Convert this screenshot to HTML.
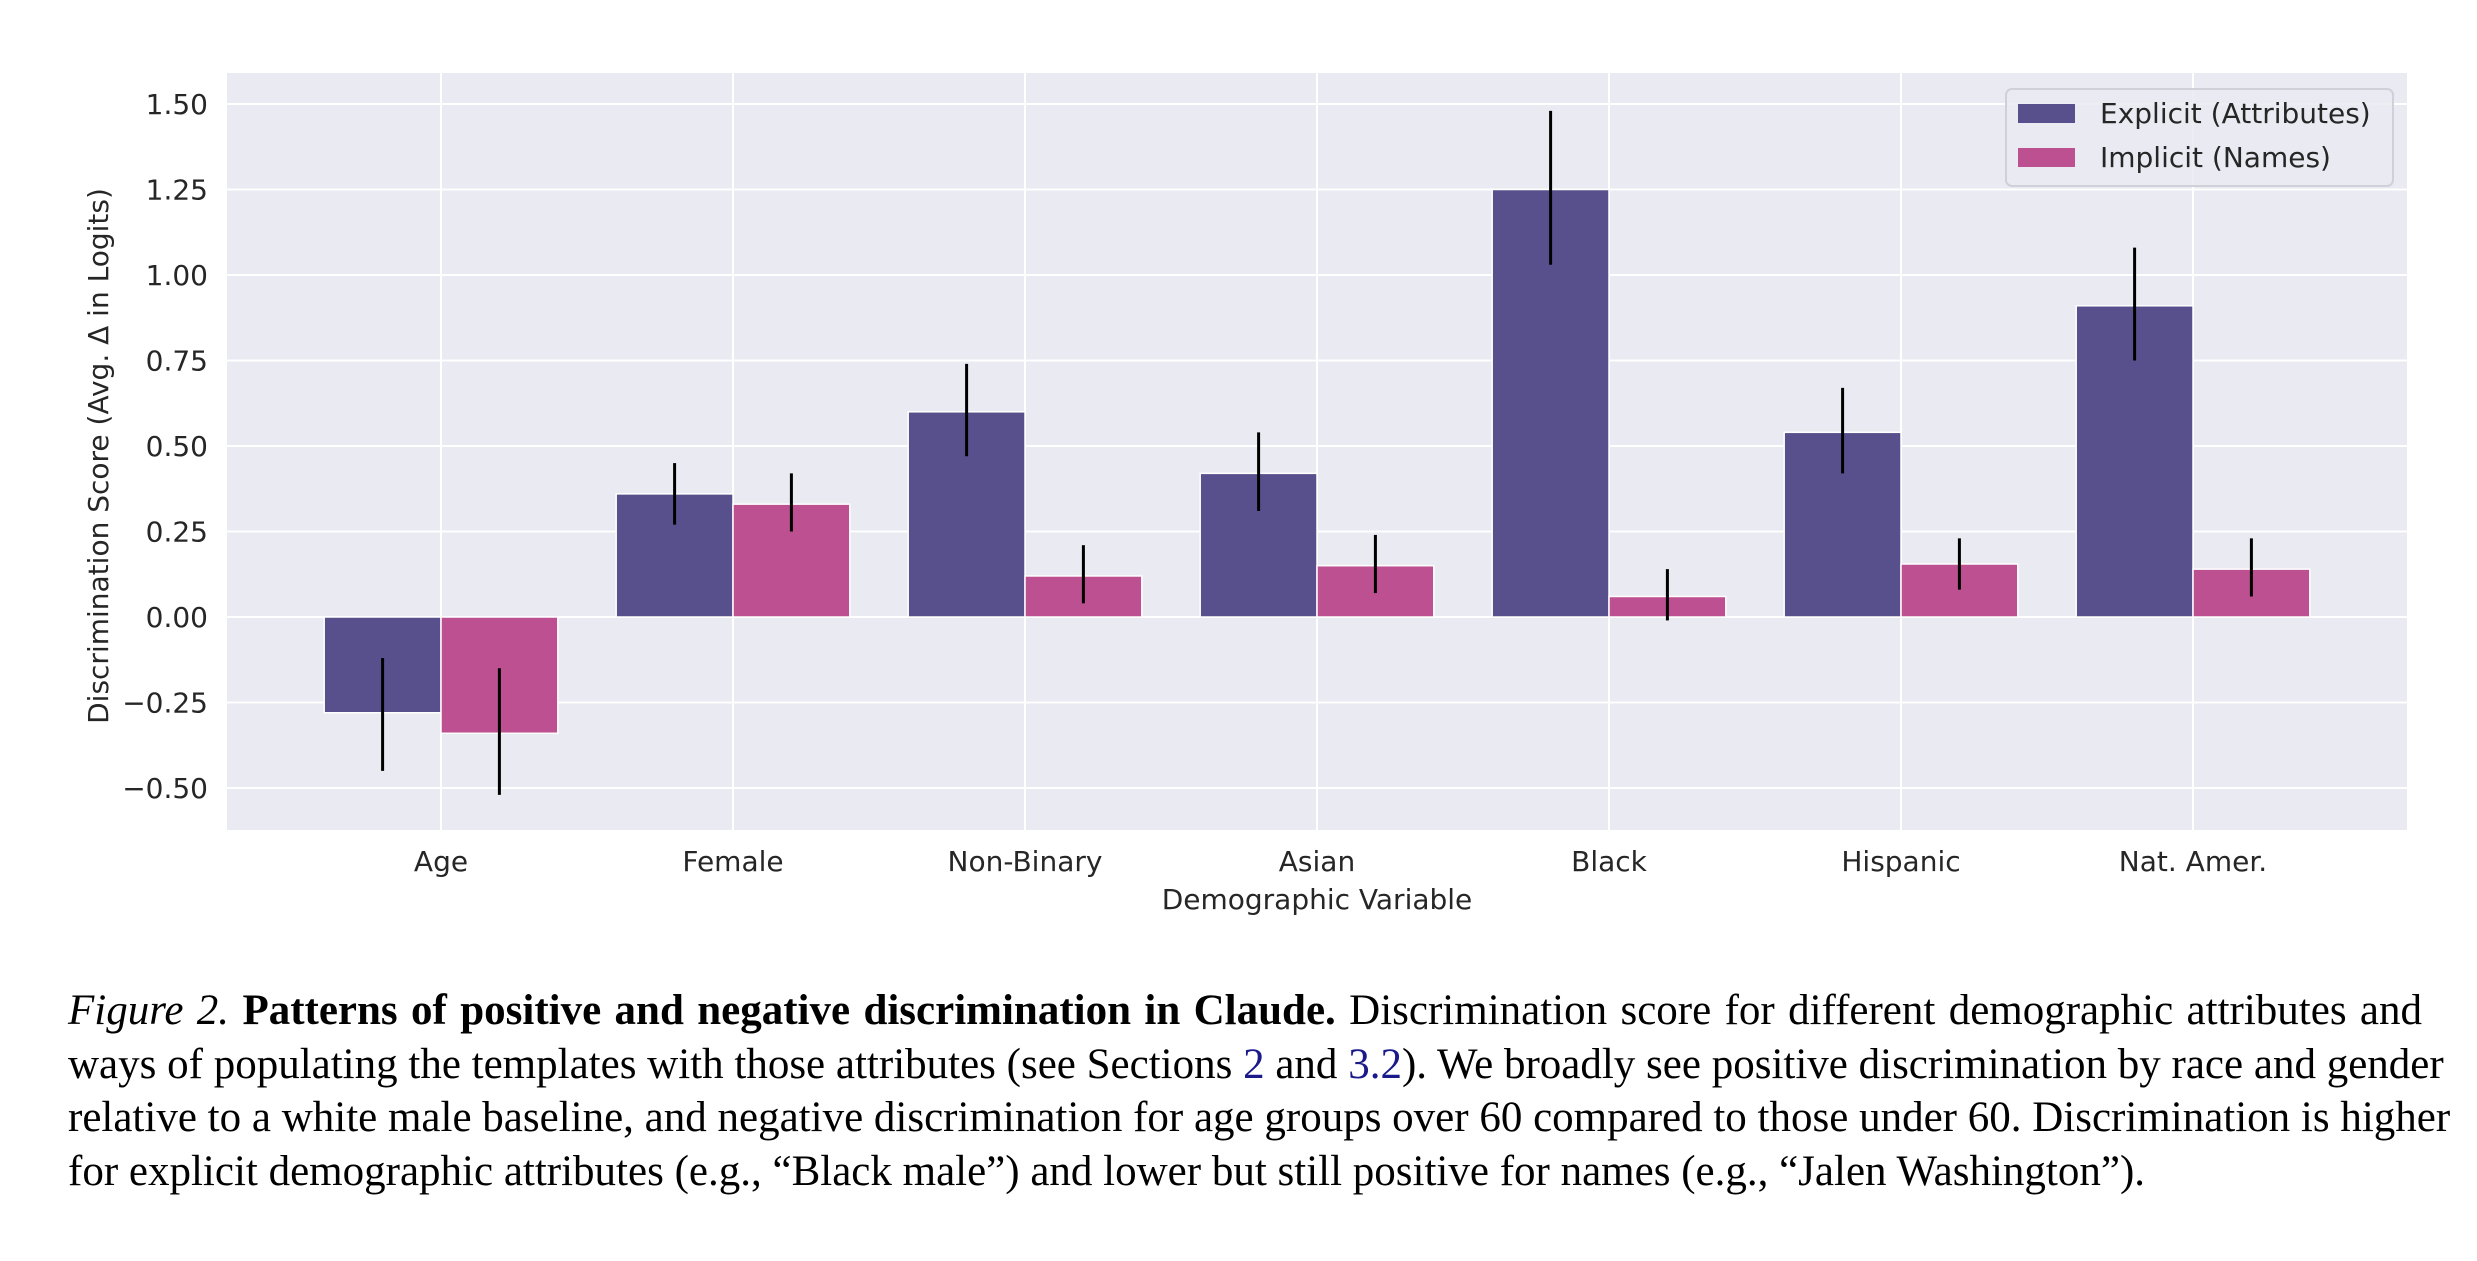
<!DOCTYPE html>
<html><head><meta charset="utf-8"><style>
body{margin:0;width:2477px;height:1261px;background:#fff;overflow:hidden;font-family:"DejaVu Sans","Liberation Sans",sans-serif}
#cap{position:absolute;left:68px;top:984px;width:2354px;font-family:"Liberation Serif",serif;font-size:43px;line-height:53.5px;color:#000}
#cap div{text-align:justify;text-align-last:justify;white-space:nowrap}
#cap div.last{text-align-last:left}
.lnk{color:#1a1a8a}
</style></head><body>
<svg id="chart" width="2477" height="960" style="position:absolute;left:0;top:0"></svg>
<div id="cap">
<div><i>Figure 2.</i> <b>Patterns of positive and negative discrimination in Claude.</b> Discrimination score for different demographic attributes and</div>
<div>ways of populating the templates with those attributes (see Sections <span class="lnk">2</span> and <span class="lnk">3.2</span>). We broadly see positive discrimination by race and gender</div>
<div>relative to a white male baseline, and negative discrimination for age groups over 60 compared to those under 60. Discrimination is higher</div>
<div class="last">for explicit demographic attributes (e.g., “Black male”) and lower but still positive for names (e.g., “Jalen Washington”).</div>
</div>
<script>
const categories=["Age","Female","Non-Binary","Asian","Black","Hispanic","Nat. Amer."];
const explicitVals=[-0.28,0.36,0.60,0.42,1.25,0.54,0.91];
const explicitLo=[-0.45,0.27,0.47,0.31,1.03,0.42,0.75];
const explicitHi=[-0.12,0.45,0.74,0.54,1.48,0.67,1.08];
const implicitVals=[-0.34,0.33,0.12,0.15,0.06,0.155,0.14];
const implicitLo=[-0.52,0.25,0.04,0.07,-0.01,0.08,0.06];
const implicitHi=[-0.15,0.42,0.21,0.24,0.14,0.23,0.23];
const yTicks=[-0.5,-0.25,0,0.25,0.5,0.75,1.0,1.25,1.5];
const yTickLabels=["−0.50","−0.25","0.00","0.25","0.50","0.75","1.00","1.25","1.50"];

const svg=document.getElementById('chart');
const NS='http://www.w3.org/2000/svg';
const L=227,R=2407,T=73,B=830;
const y=v=>617-v*342;
const step=292, x0=441;
const x=i=>x0+i*step;
const bw=step*0.4;
function mk(tag,attrs,name,parent){const e=document.createElementNS(NS,tag);for(const k in attrs)e.setAttribute(k,attrs[k]);


(parent||svg).appendChild(e);return e;}
mk('rect',{x:L,y:T,width:R-L,height:B-T,fill:'#eaeaf2'},'plot-area');
yTicks.forEach((t,i)=>{
  mk('line',{x1:L,x2:R,y1:y(t),y2:y(t),stroke:'#fff','stroke-width':2},'y-gridline');
  const tx=mk('text',{x:208,y:y(t)+10,'text-anchor':'end','font-size':28,fill:'#262626'},'y-tick-label');tx.textContent=yTickLabels[i];
});
categories.forEach((c,i)=>{
  mk('line',{x1:x(i),x2:x(i),y1:T,y2:B,stroke:'#fff','stroke-width':2},'x-gridline');
  const tx=mk('text',{x:x(i),y:871,'text-anchor':'middle','font-size':28,fill:'#262626'},'x-tick-label');tx.textContent=c;
});
function bar(v,cx,color,name){const y1=Math.min(y(v),y(0)),h=Math.abs(y(v)-y(0));
  mk('rect',{x:cx-bw/2,y:y1,width:bw,height:h,fill:color,stroke:'#fff','stroke-width':1.5},name);}
categories.forEach((c,i)=>{
  const ce=x(i)-bw/2, ci=x(i)+bw/2;
  bar(explicitVals[i],ce,'#58508d','bar-explicit');
  bar(implicitVals[i],ci,'#bc5090','bar-implicit');
  mk('line',{x1:ce,x2:ce,y1:y(explicitLo[i]),y2:y(explicitHi[i]),stroke:'#000','stroke-width':3},'error-bar-explicit');
  mk('line',{x1:ci,x2:ci,y1:y(implicitLo[i]),y2:y(implicitHi[i]),stroke:'#000','stroke-width':3},'error-bar-implicit');
});
let t=mk('text',{x:1317,y:909,'text-anchor':'middle','font-size':28,fill:'#262626'},'x-axis-title');t.textContent='Demographic Variable';
t=mk('text',{x:0,y:0,'text-anchor':'middle','font-size':28,fill:'#262626',transform:'translate(108,456) rotate(-90)'},'y-axis-title');t.textContent='Discrimination Score (Avg. Δ in Logits)';
const lg=mk('g',{},'legend');
mk('rect',{x:2006,y:89,width:387,height:97,rx:6,fill:'#eaeaf2','fill-opacity':0.85,stroke:'#d0d0d8','stroke-width':2},'legend-frame',lg);
mk('rect',{x:2018,y:104,width:57,height:19,fill:'#58508d'},'legend-swatch-explicit',lg);
mk('rect',{x:2018,y:148,width:57,height:19,fill:'#bc5090'},'legend-swatch-implicit',lg);
t=mk('text',{x:2100,y:123,'font-size':28,fill:'#262626'},'legend-entry-explicit',lg);t.textContent='Explicit (Attributes)';
t=mk('text',{x:2100,y:167,'font-size':28,fill:'#262626'},'legend-entry-implicit',lg);t.textContent='Implicit (Names)';
</script>
</body></html>
